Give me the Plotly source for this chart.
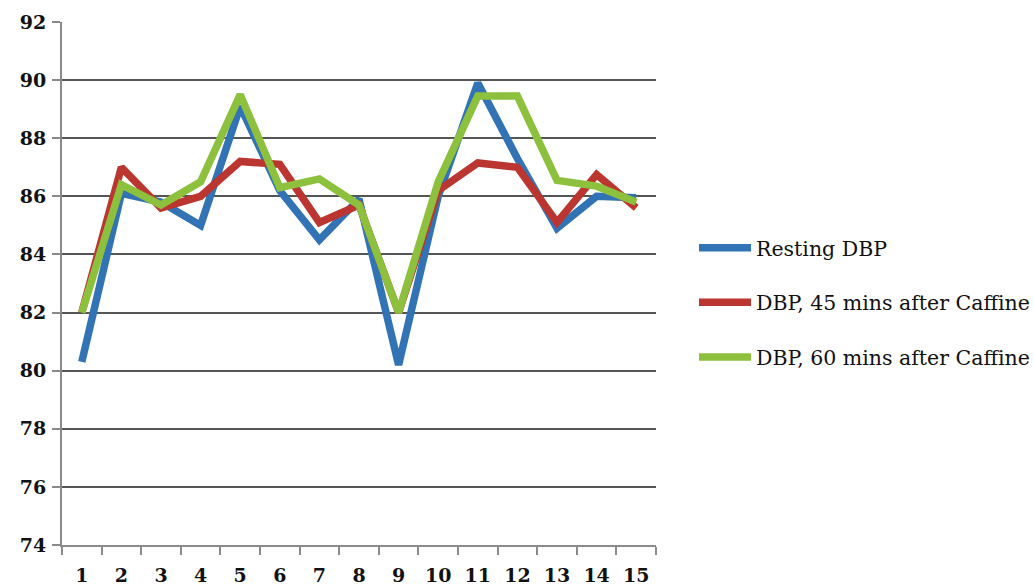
import plotly.graph_objects as go

# Subject number on the category axis
subjects = [str(i) for i in range(1, 16)]

# Diastolic blood pressure readings (mmHg)
resting_dbp = [80.3, 86.1, 85.8, 85.0, 89.1, 86.2, 84.5, 85.9, 80.2, 86.0, 89.9, 87.3, 84.9, 86.0, 85.95]
dbp_45 = [82.0, 87.0, 85.6, 86.0, 87.2, 87.1, 85.1, 85.7, 82.0, 86.2, 87.15, 87.0, 85.1, 86.75, 85.6]
dbp_60 = [82.0, 86.4, 85.7, 86.5, 89.5, 86.3, 86.6, 85.7, 82.0, 86.5, 89.45, 89.45, 86.55, 86.35, 85.8]

series_names = ["Resting DBP", "DBP, 45 mins after Caffine", "DBP, 60 mins after Caffine"]
series_colors = ["#3173B4", "#BC3631", "#8DC03D"]

y_ticks = list(range(74, 93, 2))

fig = go.Figure()
for i, (name, vals, col) in enumerate(zip(series_names, [resting_dbp, dbp_45, dbp_60], series_colors)):
    fig.add_trace(go.Scatter(
        x=subjects, y=vals, name=name, mode="lines",
        line=dict(color=col, width=7.5),
        legendgroup=f"g{i}",
    ))

tick_font = dict(family="DejaVu Serif", size=19, color="#111", weight="bold")

fig.update_layout(
    width=1034, height=588,
    margin=dict(l=62, r=378, t=22, b=43, autoexpand=False),
    paper_bgcolor="white", plot_bgcolor="white",
    showlegend=True,
    legend=dict(
        x=1.0 + 38 / 594, xref="paper", y=0.464, yref="paper",
        xanchor="left", yanchor="middle",
        font=dict(family="DejaVu Serif", size=20.5, color="#111"),
        tracegroupgap=25, itemwidth=52,
        bgcolor="rgba(0,0,0,0)",
    ),
)

fig.update_xaxes(
    type="category", range=[-0.5, 14.5], automargin=False,
    showgrid=False, showline=True, linecolor="#8a8a8a", linewidth=2,
    ticks="outside", tickson="boundaries", ticklen=8, tickwidth=2, tickcolor="#8a8a8a",
    tickfont=tick_font, ticklabelstandoff=12,
    zeroline=False,
)
fig.update_yaxes(
    range=[74, 92], tickvals=y_ticks, automargin=False,
    showgrid=True, gridcolor="#555555", gridwidth=2,
    showline=True, linecolor="#8a8a8a", linewidth=2,
    ticks="outside", ticklen=8, tickwidth=2, tickcolor="#8a8a8a",
    tickfont=tick_font, ticklabelstandoff=2,
    zeroline=False,
)

fig.write_html("out.html")
